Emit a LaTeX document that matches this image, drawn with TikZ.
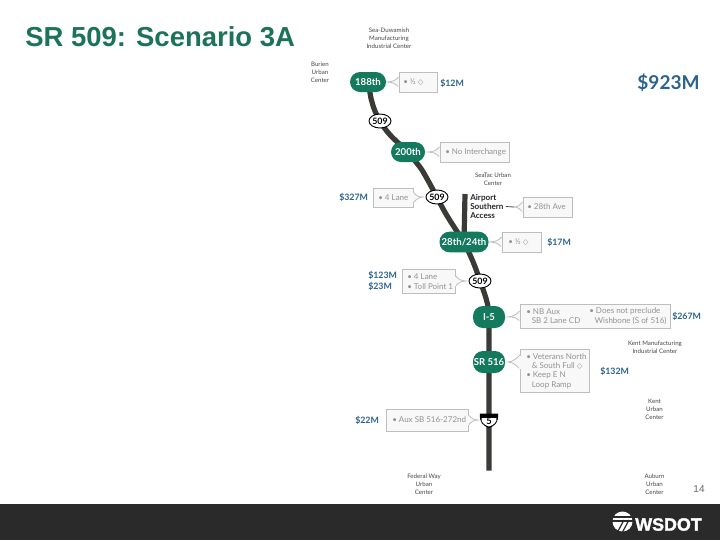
\documentclass[tikz,border=0pt]{standalone}
\usepackage{fontspec}
\setmainfont{Lato}
\newfontfamily\titlefont{Liberation Sans}
\newfontfamily\symfont{DejaVu Sans}
\newfontfamily\logofont[BoldFeatures={FakeBold=1.6}]{Liberation Sans}
\usetikzlibrary{calc,shapes.geometric}
\definecolor{wsgreen}{HTML}{147A5E}
\definecolor{road}{HTML}{3A3A36}
\definecolor{money}{HTML}{2B6390}
\definecolor{boxedge}{HTML}{BEBEBE}
\definecolor{boxfill}{HTML}{F8F8F8}
\definecolor{boxtext}{HTML}{929292}
\definecolor{barcol}{HTML}{2A2A2A}
\definecolor{titlecol}{HTML}{1C7359}
\newcommand{\dia}{{\symfont\fontsize{5.5}{6}\selectfont ◇}}
\newcommand{\bul}{\textbullet\ }
\tikzset{
  x=0.75pt,y=-0.75pt,
  roadline/.style={draw=road,line width=3.9pt,line join=round},
  stopnode/.style={fill=wsgreen,text=white,rounded corners=7.5pt,inner sep=0pt,font=\fontsize{7.2}{8}\selectfont\bfseries},
  cbox/.style={draw=boxedge,fill=boxfill,line width=0.6pt,inner sep=0pt},
  ctext/.style={anchor=west,inner sep=0pt,text=boxtext,align=left,font=\fontsize{6}{7}\selectfont},
  cptr/.style={draw=boxedge,fill=boxfill,line width=0.6pt},
  money/.style={text=money,font=\fontsize{6.6}{8.6}\selectfont\bfseries,inner sep=0pt,align=left},
  place/.style={text=black!72,font=\fontsize{4.6}{5.9}\selectfont,inner sep=0pt,align=center},
  shieldoval/.style={draw=black,fill=white,line width=0.7pt,ellipse,inner sep=0pt,minimum width=16.5pt,minimum height=10.5pt,font=\fontsize{6.6}{7}\selectfont\bfseries},
}
\newcommand{\ptrL}[2]{%
  \draw[cptr] ($(#1.west)+(0,-5)$) .. controls ($(#1.west)+(-4,-1)$) and ($(#1.west)!0.5!(#2)+(0,-0.5)$) .. (#2)
     .. controls ($(#1.west)!0.5!(#2)+(0,0.5)$) and ($(#1.west)+(-4,1)$) .. ($(#1.west)+(0,5)$);
  \draw[boxfill,line width=1pt] ($(#1.west)+(0,-4.5)$) -- ($(#1.west)+(0,4.5)$);}
\newcommand{\ptrR}[2]{%
  \draw[cptr] ($(#1.east)+(0,-5)$) .. controls ($(#1.east)+(4,-1)$) and ($(#1.east)!0.5!(#2)+(0,-0.5)$) .. (#2)
     .. controls ($(#1.east)!0.5!(#2)+(0,0.5)$) and ($(#1.east)+(4,1)$) .. ($(#1.east)+(0,5)$);
  \draw[boxfill,line width=1pt] ($(#1.east)+(0,-4.5)$) -- ($(#1.east)+(0,4.5)$);}
\begin{document}
\begin{tikzpicture}
\useasboundingbox (0,0) rectangle (720,540);
\fill[white] (0,0) rectangle (720,540);
% title and footer
\node[anchor=west,inner sep=0pt,text=titlecol,font=\fontsize{20.6}{22}\selectfont\titlefont\bfseries] (title) at (25,37) {SR 509: Scenario 3A};
\fill[barcol] (0,504) rectangle (720,540);
\node[text=black!60,font=\fontsize{7.5}{8}\selectfont\titlefont,inner sep=0pt] (pagenum) at (699,489) {14};
% WSDOT logo
\fill[white] (622.5,521.5) circle (10);
\draw[barcol,line width=0.8pt] (612,517) -- (633,517) (612,521) -- (633,521);
\draw[barcol,line width=0.9pt] (624,520) -- (617,533) (629,520) -- (622,533);
\node[text=white,anchor=west,inner sep=0pt,font=\fontsize{13.4}{15}\selectfont\logofont\bfseries] (logotext) at (635,524.5) {WSDOT};
% big total
\node[text=money,font=\fontsize{14.3}{16}\selectfont\bfseries,inner sep=0pt] (total) at (668.5,83) {\$923M};
% junction positions
\coordinate (r1) at (368,82);
\coordinate (r2) at (372,102);
\coordinate (s1) at (380,121);
\coordinate (r3) at (393,138);
\coordinate (r4) at (408,152);
\coordinate (r5) at (422,170);
\coordinate (s2) at (437,197);
\coordinate (r6) at (464,242);
\coordinate (s3) at (480,281);
\coordinate (r7) at (489,317);
\coordinate (r8) at (489,362);
\coordinate (s4) at (489,420);
\coordinate (rend) at (489,470.5);
\coordinate (branchtop) at (465,194);
% road
\draw[roadline] (r1) .. controls (370,92) and (371,100) .. (r2) .. controls (374,110) and (377,116) .. (s1) .. controls (384,128) and (388,133) .. (r3) -- (r4) .. controls (414,160) and (418,164) .. (r5) .. controls (428,180) and (432,188) .. (s2) .. controls (446,216) and (455,228) .. (r6) .. controls (470,254) and (476,268) .. (s3) .. controls (484,292) and (489,304) .. (r7) -- (r8) -- (s4) -- (rend);
\draw[roadline] (branchtop) -- (r6);
% callouts
\node[cbox,minimum width=28.5pt,minimum height=15pt] (c188) at (418,82) {};
\coordinate (t188) at (387,82); \ptrL{c188}{t188}
\node[ctext] (l188) at (403,82) {\bul ½ \dia};
\node[cbox,minimum width=51.75pt,minimum height=15pt] (c200) at (474.5,152) {};
\coordinate (t200) at (428,152); \ptrL{c200}{t200}
\node[ctext] (l200) at (445,152) {\bul No Interchange};
\node[cbox,minimum width=30pt,minimum height=14.25pt] (clane) at (393,197.5) {};
\coordinate (tlane) at (423,197); \ptrR{clane}{tlane}
\node[ctext] (llane) at (378,197.5) {\bul 4 Lane};
\node[cbox,minimum width=36.75pt,minimum height=15pt] (cave) at (547.5,207) {};
\coordinate (tave) at (514,207); \ptrL{cave}{tave}
\node[ctext] (lave) at (527,207) {\bul 28th Ave};
\node[cbox,minimum width=29.25pt,minimum height=15pt] (chalf) at (521.5,242) {};
\coordinate (thalf) at (490,242); \ptrL{chalf}{thalf}
\node[ctext] (lhalf) at (508,242) {\bul ½ \dia};
\node[cbox,minimum width=39.75pt,minimum height=18pt] (ctoll) at (428.5,281) {};
\coordinate (ttoll) at (466,281); \ptrR{ctoll}{ttoll}
\node[ctext] (ltoll) at (407,281.5) {\bul 4 Lane\\\bul Toll Point 1};
\node[cbox,minimum width=112.5pt,minimum height=18pt] (cfive) at (595,316) {};
\node[ctext] (cfivea) at (526,316) {\bul NB Aux\\\hspace{0.7em}SB 2 Lane CD};
\node[ctext] (cfiveb) at (589,316) {\bul Does not preclude\\\hspace{0.7em}Wishbone (S of 516)};
\coordinate (tfive) at (508,317); \ptrL{cfive}{tfive}
\node[cbox,minimum width=51.75pt,minimum height=32.25pt] (csr) at (554.5,370.5) {};
\node[ctext] (lsr) at (526,371) {\bul Veterans North\\\hspace{0.7em}\& South Full \dia\\\bul Keep E N\\\hspace{0.7em}Loop Ramp};
\coordinate (tsr) at (508,362);
\draw[cptr] (520,355) .. controls (516,359) and (513,361.5) .. (tsr) .. controls (513,362.5) and (516,365) .. (520,369);
\draw[boxfill,line width=1pt] (520,355.5) -- (520,368.5);
\node[cbox,minimum width=61.5pt,minimum height=16.5pt] (caux) at (427,420) {};
\coordinate (taux) at (478,420); \ptrR{caux}{taux}
\node[ctext] (laux) at (392,420) {\bul Aux SB 516-272nd};
% access label and its tie to the callout
\node[anchor=west,inner sep=0pt,align=left,font=\fontsize{6.1}{6.9}\selectfont\bfseries,text=black!85] (access) at (470,206.5) {Airport\\Southern\\Access};
\draw[black!70,line width=0.6pt] ($(access.east)+(2,0)$) -- (tave);
% stops
\node[stopnode,minimum width=27pt,minimum height=15pt] (n188) at (r1) {188th};
\node[stopnode,minimum width=25.5pt,minimum height=15pt] (n200) at (r4) {200th};
\node[stopnode,minimum width=36.75pt,minimum height=15.5pt] (n28) at (r6) {28th/24th};
\node[stopnode,minimum width=24pt,minimum height=16.5pt] (n15) at (r7) {I-5};
\node[stopnode,minimum width=24pt,minimum height=16.5pt] (n516) at (r8) {SR 516};
% shields
\node[shieldoval] (h1) at (s1) {509};
\node[shieldoval] (h2) at (s2) {509};
\node[shieldoval] (h3) at (s3) {509};
\fill[black] (480,413.5) -- (498,413.5) .. controls (499,422) and (495,426) .. (489,428) .. controls (483,426) and (479,422) .. (480,413.5) -- cycle;
\fill[white] (481.5,418) -- (496.5,418) .. controls (497,422) and (494,425) .. (489,426.5) .. controls (484,425) and (481,422) .. (481.5,418) -- cycle;
\node[inner sep=0pt,font=\fontsize{7}{7}\selectfont\bfseries] (h4) at (489,421.5) {5};
% costs
\node[money,anchor=west] (m12) at (440,83) {\$12M};
\node[money,anchor=west] (m327) at (339,197) {\$327M};
\node[money,anchor=west] (m17) at (547,242) {\$17M};
\node[money,anchor=west] (m123) at (368,281) {\$123M\\\$23M};
\node[money,anchor=west] (m267) at (672,316.5) {\$267M};
\node[money,anchor=west] (m132) at (600,371) {\$132M};
\node[money,anchor=west] (m22) at (355,420) {\$22M};
% places
\node[place] (p1) at (389,38) {Sea-Duwamish\\Manufacturing\\Industrial Center};
\node[place] (p2) at (320,72) {Burien\\Urban\\Center};
\node[place] (p3) at (493,179.5) {SeaTac Urban\\Center};
\node[place] (p4) at (655,347) {Kent Manufacturing\\Industrial Center};
\node[place] (p5) at (654.5,409.5) {Kent\\Urban\\Center};
\node[place] (p6) at (424,484.5) {Federal Way\\Urban\\Center};
\node[place] (p7) at (654.5,484.5) {Auburn\\Urban\\Center};
\end{tikzpicture}
\end{document}
